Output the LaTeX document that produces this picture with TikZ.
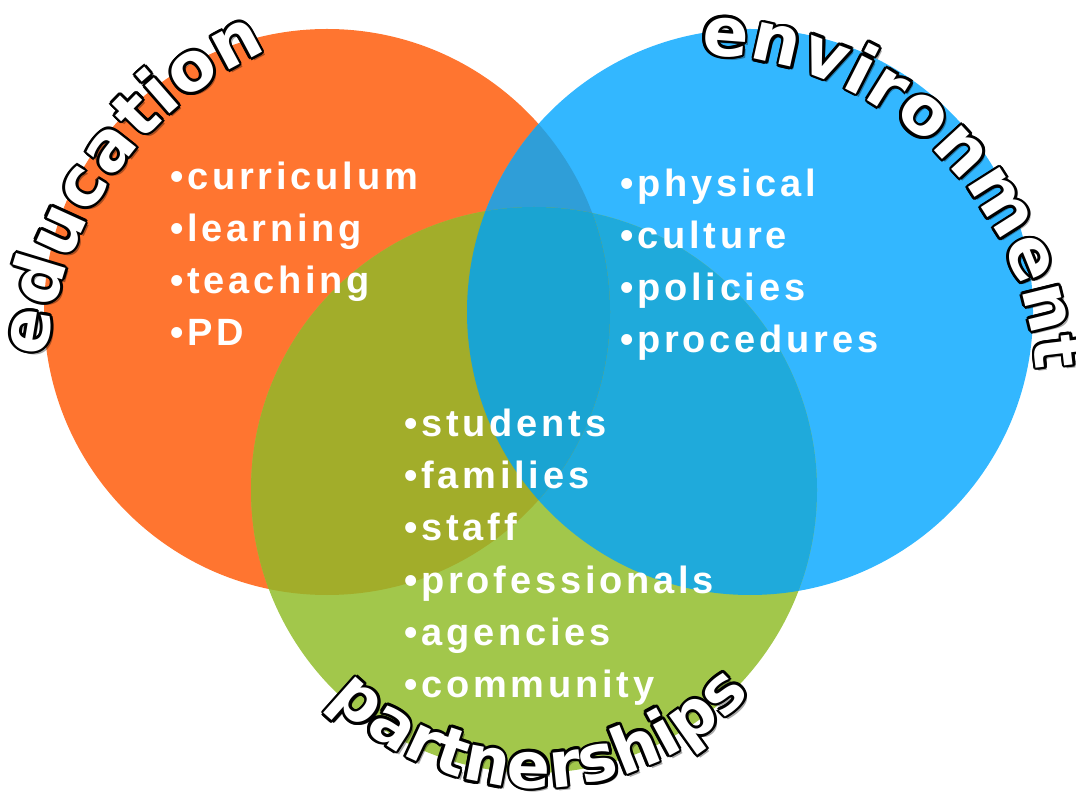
\documentclass[tikz,border=0pt]{standalone}
\usepackage{fontspec}
\usetikzlibrary{decorations.text}
\newfontfamily\arcfamily{DejaVu Sans}
\newfontfamily\listfamily{Liberation Sans}[LetterSpace=10]
\def\arcsize{64}
\newcommand{\arcfont}{\arcfamily\bfseries\fontsize{\arcsize}{\arcsize}\selectfont}
\newcommand{\listfont}{\listfamily\bfseries\fontsize{38}{38}\selectfont}
\definecolor{educolor}{RGB}{255,117,48}
\definecolor{envcolor}{RGB}{51,183,255}
\definecolor{partcolor}{RGB}{162,199,75}
\definecolor{edupart}{RGB}{162,173,42}
\definecolor{eduenv}{RGB}{47,158,216}
\definecolor{envpart}{RGB}{31,170,219}
\definecolor{allthree}{RGB}{26,164,210}
\tikzset{
  arctext/.style 2 args={decorate, decoration={text along path, text color=#1,
      text={|\arcfont|#2}, text align={fit to path}}},
  listitem/.style={anchor=base west, inner sep=0pt, text=white, font=\listfont}
}
% outlined label with a shadow, set along an arc
% [#1] size, #2,#3 centre, #4 start angle, #5 end angle, #6 radius, #7 text
\newcommand{\arclabel}[7][64]{%
  \begin{scope}[shift={(#2,#3)}]
    \def\arcsize{#1}
    \begin{scope}[opacity=0.35]
      \path[arctext={black}{#7}, shift={(3,-3)}] (#4:#6) arc[start angle=#4, end angle=#5, radius=#6];
    \end{scope}
    \foreach \a in {0,30,...,330}
      \path[arctext={black}{#7}, shift={(\a:2.7)}] (#4:#6) arc[start angle=#4, end angle=#5, radius=#6];
    \path[arctext={white}{#7}] (#4:#6) arc[start angle=#4, end angle=#5, radius=#6];
  \end{scope}}

\begin{document}
\begin{tikzpicture}[x=1pt,y=1pt]
  \useasboundingbox (0,0) rectangle (1076,793);
  \def\rad{283}

  % the three circles
  \coordinate (edu) at (327,481);
  \coordinate (env) at (750,481);
  \coordinate (part) at (534,303);
  \fill[educolor] (edu) circle[radius=\rad];
  \fill[envcolor] (env) circle[radius=\rad];
  \fill[partcolor] (part) circle[radius=\rad];

  % overlaps
  \begin{scope}
    \clip (env) circle[radius=\rad];
    \fill[envpart] (part) circle[radius=\rad];
  \end{scope}
  \begin{scope}
    \clip (edu) circle[radius=\rad];
    \fill[eduenv] (env) circle[radius=\rad];
    \fill[edupart] (part) circle[radius=\rad];
    \clip (env) circle[radius=\rad];
    \fill[allthree] (part) circle[radius=\rad];
  \end{scope}

  % the lists
  \foreach \word [count=\i] in {curriculum,learning,teaching,PD}
    \node[listitem] (edu-\i) at (170,655-52*\i) {•\word};
  \foreach \word [count=\i] in {physical,culture,policies,procedures}
    \node[listitem] (env-\i) at (620,648-52*\i) {•\word};
  \foreach \word [count=\i] in {students,families,staff,professionals,agencies,community}
    \node[listitem] (part-\i) at (404,408-52*\i) {•\word};

  % curved titles
  \arclabel[68]{425}{396}{174}{114.5}{381}{education}
  \arclabel[68]{698}{399}{89.5}{4}{339}{environment}
  \arclabel{537}{292}{223.7}{318}{287}{partnerships}
\end{tikzpicture}
\end{document}
